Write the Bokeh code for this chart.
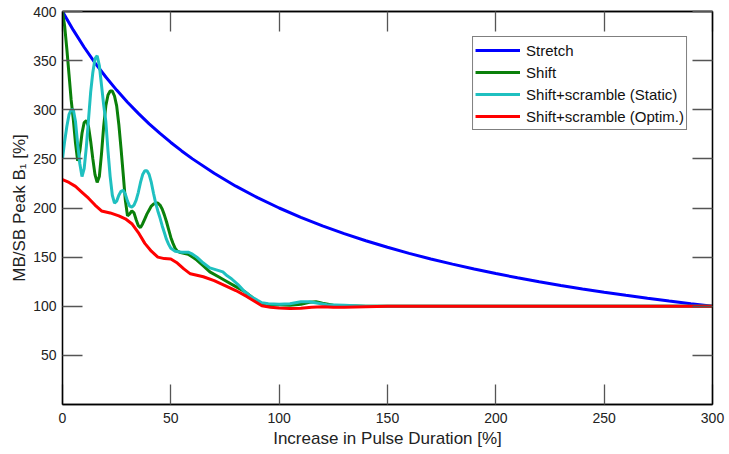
from bokeh.plotting import figure
from bokeh.models import LinearAxis, FixedTicker, Range1d, Legend, LegendItem
from bokeh.embed import file_html
from bokeh.resources import INLINE

# ---- data ----
x_ticks = [0, 50, 100, 150, 200, 250, 300]
y_ticks = [50, 100, 150, 200, 250, 300, 350, 400]

stretch_x = [0, 5, 10, 15, 20, 25, 30, 35, 40, 45, 50, 55, 60, 70, 80, 90, 100, 110, 120, 130,
             140, 150, 160, 170, 180, 190, 200, 210, 220, 230, 240, 250, 260, 270, 280, 290, 300]
stretch_y = [400, 381, 363.6, 347.8, 333.3, 320, 307.7, 296.3, 285.7, 275.9, 266.7, 258.1, 250,
             235.3, 222.2, 210.5, 200, 190.5, 181.8, 173.9, 166.7, 160, 153.8, 148.1, 142.9,
             137.9, 133.3, 129.0, 125, 121.2, 117.6, 114.3, 111.1, 108.1, 105.3, 102.6, 100]

shift_x = [0, 1, 2, 3, 4, 5, 6, 7, 8, 9, 10, 11, 12, 13, 14, 15, 16, 17, 18, 19, 20, 21, 22, 23,
           24, 25, 26, 27, 28, 29, 30, 31, 32, 33, 34, 35, 36, 37, 38, 39, 40, 41, 42, 43, 44, 45,
           46, 47, 48, 49, 50, 51, 52, 53, 54, 56, 58, 60, 62, 65, 68, 72, 76, 80, 84, 87, 90, 93,
           96, 100, 105, 110, 114, 117, 120, 125, 130, 140, 300]
shift_y = [400, 385, 362, 336, 310, 290, 266, 248, 258, 276, 287, 289, 283, 268, 250, 234, 226,
           232, 255, 283, 304, 315, 319, 319, 314, 304, 285, 261, 235, 208, 192, 194, 197, 195,
           188, 182, 180, 184, 189, 194, 198, 202, 204, 205, 205, 203, 199, 193, 186, 178, 170,
           164, 159, 156, 155, 154, 153, 150, 147, 141, 135, 130, 125, 120, 115, 110, 104, 102,
           101.5, 101.5, 101, 102, 104, 104.5, 103, 101, 100.5, 100, 100]

static_x = [0, 1, 2, 3, 4, 5, 6, 7, 8, 9, 10, 11, 12, 13, 14, 15, 16, 17, 18, 19, 20, 21, 22, 23,
            24, 25, 26, 27, 28, 29, 30, 31, 32, 33, 34, 35, 36, 37, 38, 39, 40, 41, 42, 43, 44, 45,
            46, 47, 48, 49, 50, 52, 55, 58, 60, 62, 65, 68, 71, 74, 76, 78, 81, 84, 87, 90, 92, 95,
            100, 105, 110, 114, 118, 122, 130, 140, 300]
static_y = [250, 268, 283, 295, 300, 300, 288, 265, 245, 232, 240, 262, 290, 318, 338, 352, 355,
            345, 325, 305, 288, 258, 232, 213, 205, 207, 213, 217, 218, 214, 207, 202, 201, 203,
            208, 216, 226, 234, 238, 238, 234, 226, 215, 205, 197, 190, 182, 175, 168, 163, 159,
            156, 155, 155, 153, 150, 144, 139, 137, 135, 131, 128, 122, 115, 110, 106, 103.5,
            102.5, 102, 102.5, 104.5, 104.5, 103, 101.5, 101, 100, 100]

optim_x = [0, 3, 6, 9, 12, 15, 18, 22, 26, 29, 32, 35, 38, 41, 44, 47, 50, 53, 56, 59, 62, 65,
           70, 75, 80, 85, 89, 92, 96, 100, 105, 110, 115, 120, 125, 130, 140, 150, 300]
optim_y = [229, 226, 222, 216, 210, 203, 197, 195, 192, 189, 184, 175, 164, 156, 150, 148.5, 148,
           144, 138, 133, 131.5, 130, 126, 121, 116, 110, 104.5, 100.5, 99, 98.2, 97.8, 98, 99,
           99.5, 99, 99, 99.5, 100, 100]

FONT = "Liberation Sans"

p = figure(width=729, height=454, x_range=Range1d(0, 300), y_range=Range1d(0, 400),
           output_backend="svg", toolbar_location=None,
           min_border_left=62, min_border_right=17, min_border_top=11, min_border_bottom=50)

p.xgrid.visible = False
p.ygrid.visible = False
p.outline_line_color = "black"
p.outline_line_width = 1.3
p.background_fill_color = "white"
p.border_fill_color = "white"


def style_axis(ax, ticks, labels=True):
    ax.ticker = FixedTicker(ticks=ticks)
    ax.major_tick_in = 20
    ax.major_tick_out = 0
    ax.major_tick_line_color = "#555555"
    ax.major_tick_line_width = 1.3
    ax.minor_tick_line_color = None
    ax.axis_line_color = "black"
    ax.axis_line_width = 1.3
    if labels:
        ax.major_label_text_font = FONT
        ax.major_label_text_font_size = "14px"
        ax.major_label_text_color = "#222222"
        ax.axis_label_text_font = FONT
        ax.axis_label_text_font_size = "17px"
        ax.axis_label_text_font_style = "normal"
        ax.axis_label_text_color = "#222222"
    else:
        ax.major_label_text_color = None
        ax.major_label_text_font_size = "0px"
        ax.major_label_standoff = 0


style_axis(p.xaxis[0], x_ticks)
p.xaxis[0].axis_label = "Increase in Pulse Duration [%]"
p.xaxis[0].major_label_standoff = 8
p.xaxis[0].axis_label_standoff = 3

style_axis(p.yaxis[0], y_ticks)
p.yaxis[0].axis_label = "MB/SB Peak B\u2081 [%]"
p.yaxis[0].major_label_standoff = 6
p.yaxis[0].axis_label_standoff = 1

right = LinearAxis()
style_axis(right, y_ticks, labels=False)
p.add_layout(right, "right")

top = LinearAxis()
style_axis(top, x_ticks, labels=False)
p.add_layout(top, "above")

r1 = p.line(stretch_x, stretch_y, line_color="#0000ff", line_width=3)
r2 = p.line(shift_x, shift_y, line_color="#0a800a", line_width=3)
r3 = p.line(static_x, static_y, line_color="#1fc0c0", line_width=3)
r4 = p.line(optim_x, optim_y, line_color="#ff0000", line_width=3)

legend = Legend(items=[
    LegendItem(label="Stretch", renderers=[r1]),
    LegendItem(label="Shift", renderers=[r2]),
    LegendItem(label="Shift+scramble (Static)", renderers=[r3]),
    LegendItem(label="Shift+scramble (Optim.)", renderers=[r4]),
], location="top_right")
legend.margin = 25
legend.padding = 2
legend.spacing = 0
legend.label_height = 22
legend.glyph_height = 22
legend.glyph_width = 45
legend.label_standoff = 6
legend.label_text_font = FONT
legend.label_text_font_size = "15px"
legend.label_text_color = "#111111"
legend.border_line_color = "black"
legend.border_line_width = 1.2
legend.background_fill_color = "white"
legend.background_fill_alpha = 1.0
p.add_layout(legend)

open("out.html", "w").write(file_html(p, INLINE))
